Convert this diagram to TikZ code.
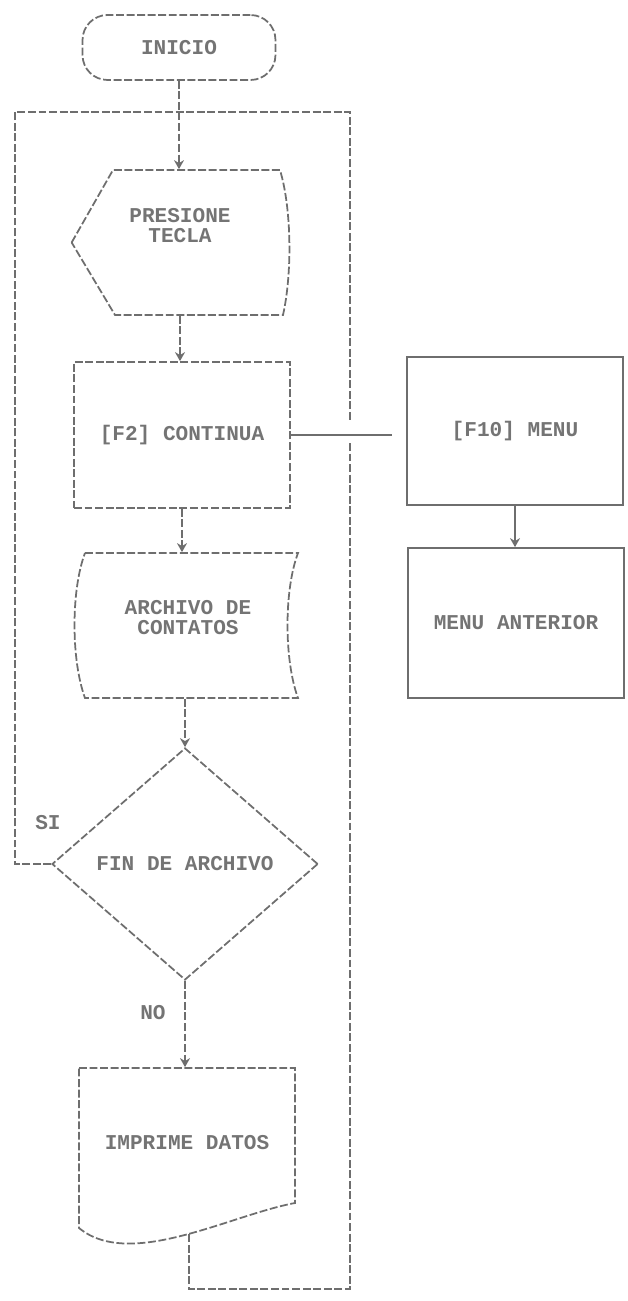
\documentclass[tikz,border=0pt]{standalone}
\usepackage{xcolor}
\usepackage{fontspec}
\usepackage{tikz}
\usetikzlibrary{shapes.geometric, arrows.meta, calc}
\newfontfamily\dotfont{Liberation Mono}
\definecolor{ink}{HTML}{6E6E6E}
\definecolor{inktext}{HTML}{747474}
\newcommand{\liftup}[2]{\raisebox{#1}[\height][\depth]{#2}}

\begin{document}
\begin{tikzpicture}[
    x=0.02cm, y=-0.02cm,
    box/.style={rectangle, draw=ink, line width=1pt, dash pattern=on 4.5pt off 1.5pt, minimum width=4.32cm, minimum height=2.92cm, inner sep=0pt, text=inktext, font=\dotfont\bfseries\fontsize{12}{11.5}\selectfont, align=center},
    solidbox/.style={box, solid},
    shapebox/.style={box, draw=none},
    term/.style={box, rounded corners=0.5cm, minimum width=3.86cm, minimum height=1.3cm},
    decision/.style={box, diamond, aspect=1.15, minimum width=5.32cm, minimum height=4.64cm},
    link/.style={draw=ink, line width=1pt, dash pattern=on 4.5pt off 1.5pt},
    arrow/.style={link, -{Stealth[length=1.8mm, width=2mm]}},
    tag/.style={text=inktext, inner sep=0pt, font=\dotfont\bfseries\fontsize{12}{11.5}\selectfont}
]
\useasboundingbox (0,0) rectangle (628,1301);

% Inicio
\node[term] (inicio) at (179,47.5) {INICIO};

% Presione tecla
\node[shapebox, minimum width=4.3cm, minimum height=2.9cm] (tecla) at (180,242.5) {\liftup{0.28cm}{\begin{tabular}{@{}c@{}}PRESIONE\\TECLA\end{tabular}}};
\draw[link] (tecla.west) -- (113,170) -- (280,170) .. controls (292,210) and (292,275) .. (283,315) -- (115,315) -- cycle;

% Opciones
\node[box] (f2) at (182,435) {[F2] CONTINUA};
\node[solidbox, minimum height=2.96cm] (f10) at (515,431) {[F10] MENU};
\node[solidbox, minimum height=3cm] (anterior) at (516,623) {MENU ANTERIOR};

% Archivo
\node[shapebox, minimum width=4.5cm, minimum height=2.9cm] (archivo) at (188,625.5) {\liftup{0.1cm}{\begin{tabular}{@{}c@{}}ARCHIVO DE\\CONTATOS\end{tabular}}};
\draw[link] (85,553) -- (298,553) .. controls (284,590) and (284,660) .. (298,698) -- (85,698) .. controls (71,660) and (71,590) .. (85,553);

% Fin de archivo
\node[decision] (fin) at (185,864) {FIN DE ARCHIVO};
\node[tag] (si) at (48,823) {SI};
\node[tag] (no) at (153,1013) {NO};

% Imprime datos
\node[shapebox, minimum height=3cm] (imprime) at (187,1143) {IMPRIME DATOS};
\draw[link] (79,1068) -- (295,1068) -- (295,1203) .. controls (230,1215) and (130,1270) .. coordinate[pos=0.47] (impout) (79,1228) -- cycle;

% Arrows
\draw[arrow] (inicio.south) -- (inicio.south |- tecla.north);
\draw[arrow] (tecla.south) -- (tecla.south |- f2.north);
\draw[arrow] (f2.south) -- (f2.south |- archivo.north);
\draw[arrow] (fin.north |- archivo.south) -- (fin.north);
\draw[arrow] (fin.south) -- (fin.south |- imprime.north);
\draw[link, solid] (f2.east) -- ([xshift=-0.28cm]f10.west |- f2.east);
\draw[arrow, solid] (f10.south) -- (f10.south |- anterior.north);

% Loop
\coordinate (tl) at (15,112);
\coordinate (tr) at (350,112);
\coordinate (br) at (350,1289);
\draw[link] (fin.west) -- (fin.west -| tl) -- (tl) -- (tr) -- ([yshift=0.26cm]tr |- f2.east);
\draw[link] ([yshift=-0.16cm]tr |- f2.east) -- (br) -- (br -| impout) -- (impout);

\end{tikzpicture}
\end{document}
